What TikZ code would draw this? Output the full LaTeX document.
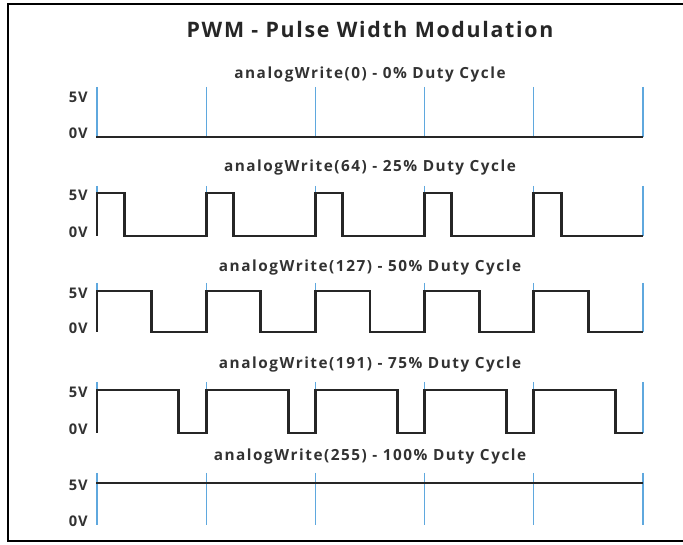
\documentclass[tikz,border=0pt]{standalone}
\usepackage{fontspec}
\setmainfont{Open Sans}
\newfontfamily\lblfont[LetterSpace=10]{Open Sans}
\newfontfamily\lvlfont[LetterSpace=6]{Open Sans}
\newfontfamily\ttlfont[LetterSpace=8]{Open Sans}
\definecolor{gridblue}{RGB}{95,168,222}
\definecolor{labelgray}{RGB}{50,50,50}
\usetikzlibrary{positioning}

\begin{document}
\begin{tikzpicture}[x=0.75pt, y=-0.75pt,
  sig/.style={line width=2.2pt, black!85, line join=miter},
  tick/.style={gridblue, line width=1pt},
  lvl/.style={font=\lvlfont\fontsize{11}{12}\selectfont\bfseries, text=labelgray,
    anchor=east, inner sep=0pt},
  rowlbl/.style={font=\lblfont\fontsize{11.5}{13}\selectfont\bfseries, text=labelgray},
]
\useasboundingbox (0,0) rectangle (683,545);
% frame
\draw[line width=1.5pt] (700,4) -- (8,4) -- (8,541) -- (700,541);
\node[font=\ttlfont\fontsize{16}{18}\selectfont\bfseries, text=black!85] (title) at (370,30) {PWM - Pulse Width Modulation};

% grid ticks and level labels
\foreach \lo/\hi/\top/\ly/\n/\txt in {
    137/95/87/75/a/{analogWrite(0) - 0\% Duty Cycle},
    236/193/186/168/b/{analogWrite(64) - 25\% Duty Cycle},
    332/291/283/268/c/{analogWrite(127) - 50\% Duty Cycle},
    433/390/382/365/d/{analogWrite(191) - 75\% Duty Cycle},
    525/483/473/457/e/{analogWrite(255) - 100\% Duty Cycle}}{
  \foreach \k in {0,...,5}
    \draw[tick] (97+\k*109.2,\top) -- (97+\k*109.2,\lo);
  \node[rowlbl] (lbl\n) at (370,\ly) {\txt};
  \node[lvl] (hi\n) at (88,\hi+2) {5V};
  \node[lvl] (lo\n) at (88,\lo-4) {0V};
}

% 0% and 100%
\draw[sig] (96,137) -- (643,137);
\draw[sig] (96,483) -- (643,483);

% pulse trains
\foreach \lo/\hi/\d in {236/193/0.25, 332/291/0.5, 433/390/0.75}
  \draw[sig] (97,\lo)
    \foreach \k in {0,...,4}{
      -- (97+\k*109.2,\lo) -- (97+\k*109.2,\hi)
      -- ({97+(\k+\d)*109.2},\hi) -- ({97+(\k+\d)*109.2},\lo)
    } -- (643,\lo);
\end{tikzpicture}
\end{document}
